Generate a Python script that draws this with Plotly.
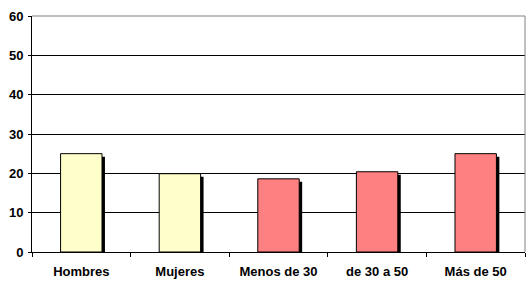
import plotly.graph_objects as go

categories = ["Hombres", "Mujeres", "Menos de 30", "de 30 a 50", "Más de 50"]
values = [25.0, 19.9, 18.6, 20.4, 25.0]
bar_colors = ["#FFFFCC", "#FFFFCC", "#FF8080", "#FF8080", "#FF8080"]
y_ticks = [0, 10, 20, 30, 40, 50, 60]

BAR_W = 0.42
SHADOW_DX = 0.03   # in category units (~3px)
SHADOW_DY = 0.76   # in value units (~3px)

fig = go.Figure()
fig.add_trace(go.Bar(
    x=categories, y=values, base=-SHADOW_DY,
    width=BAR_W, offset=-BAR_W / 2 + SHADOW_DX,
    marker=dict(color="black", line=dict(width=0)),
    hoverinfo="skip", showlegend=False,
))
fig.add_trace(go.Bar(
    x=categories, y=values,
    width=BAR_W, offset=-BAR_W / 2,
    marker=dict(color=bar_colors, line=dict(color="black", width=1)),
    showlegend=False,
))

tf = dict(family="Liberation Sans, Arial, sans-serif", size=13, color="black", weight="bold")

fig.update_layout(
    width=530, height=288,
    margin=dict(l=32, r=5, t=16, b=36),
    paper_bgcolor="white", plot_bgcolor="white",
    barmode="overlay",
    font=dict(family="Liberation Sans, Arial, sans-serif", size=13, color="black"),
    xaxis=dict(
        showline=True, linecolor="black", linewidth=1,
        ticks="outside", ticklen=4, tickcolor="black",
        tickson="boundaries",
        showgrid=False, zeroline=False,
        tickfont=tf,
        ticklabelstandoff=7,
    ),
    yaxis=dict(
        range=[0, 60], tickvals=y_ticks,
        showline=True, linecolor="black", linewidth=1,
        ticks="outside", ticklen=3, tickcolor="black",
        showgrid=True, gridcolor="black", gridwidth=1,
        zeroline=False,
        tickfont=tf,
        ticklabelstandoff=2,
    ),
    shapes=[
        dict(type="line", xref="x domain", yref="y domain", x0=0, x1=1, y0=1, y1=1,
             line=dict(color="#808080", width=1), layer="above"),
        dict(type="line", xref="x domain", yref="y domain", x0=1, x1=1, y0=0, y1=1,
             line=dict(color="#808080", width=1), layer="above"),
    ],
)

fig.write_html("out.html")
